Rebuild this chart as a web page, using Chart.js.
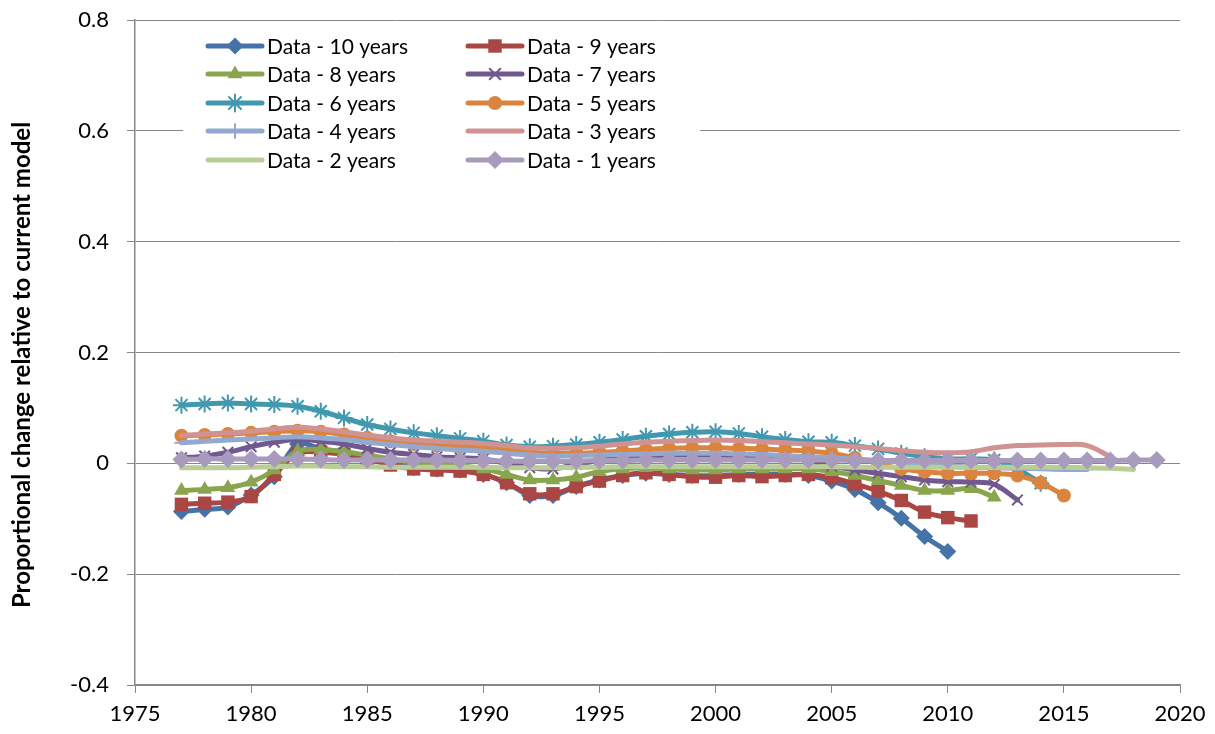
<!DOCTYPE html>
<html>
<head>
<meta charset="utf-8">
<script src="https://cdn.jsdelivr.net/npm/chart.js@4.4.0/dist/chart.umd.min.js"></script>
<style>
body { margin: 0; background: #fff; }
#box { width: 1215px; height: 734px; }
</style>
</head>
<body>
<div id="box"><canvas id="grafico"></canvas></div>
<script>
// every series starts in 1977, one value per year
const firstYear = 1977;
const xTicks = [1975, 1980, 1985, 1990, 1995, 2000, 2005, 2010, 2015, 2020];
const yTicks = [-0.4, -0.2, 0, 0.2, 0.4, 0.6, 0.8];
const yTitle = "Proportional change relative to current model";

const seriesNames = ["Data - 10 years", "Data - 9 years", "Data - 8 years", "Data - 7 years", "Data - 6 years",
                     "Data - 5 years", "Data - 4 years", "Data - 3 years", "Data - 2 years", "Data - 1 years"];

const data10 = [-0.087, -0.083, -0.079, -0.057, -0.024, 0.035, 0.026, 0.02, 0.01, 0.0,
                -0.008, -0.01, -0.012, -0.02, -0.035, -0.058, -0.058, -0.042, -0.03, -0.022,
                -0.018, -0.02, -0.022, -0.022, -0.02, -0.02, -0.02, -0.022, -0.032, -0.047,
                -0.071, -0.099, -0.132, -0.159];
const data9 = [-0.074, -0.072, -0.07, -0.06, -0.02, 0.018, 0.02, 0.016, 0.008, -0.003,
               -0.01, -0.012, -0.014, -0.02, -0.035, -0.055, -0.055, -0.042, -0.032, -0.022,
               -0.017, -0.02, -0.024, -0.025, -0.022, -0.024, -0.022, -0.02, -0.026, -0.037,
               -0.05, -0.067, -0.088, -0.098, -0.104];
const data8 = [-0.049, -0.047, -0.044, -0.034, -0.012, 0.022, 0.025, 0.021, 0.015, 0.008,
               0.002, 0.0, -0.004, -0.01, -0.02, -0.03, -0.03, -0.025, -0.015, -0.01,
               -0.008, -0.01, -0.012, -0.012, -0.01, -0.01, -0.01, -0.01, -0.015, -0.022,
               -0.031, -0.04, -0.049, -0.049, -0.046, -0.061];
const data7 = [0.01, 0.013, 0.02, 0.03, 0.038, 0.043, 0.04, 0.035, 0.027, 0.02,
               0.016, 0.012, 0.01, 0.008, 0.0, -0.008, -0.01, -0.002, 0.005, 0.01,
               0.013, 0.015, 0.015, 0.015, 0.014, 0.012, 0.01, 0.005, -0.005, -0.012,
               -0.018, -0.024, -0.03, -0.033, -0.034, -0.038, -0.066];
const data6 = [0.105, 0.107, 0.109, 0.107, 0.106, 0.103, 0.094, 0.082, 0.07, 0.062,
               0.055, 0.05, 0.045, 0.04, 0.033, 0.03, 0.031, 0.034, 0.038, 0.043,
               0.049, 0.053, 0.056, 0.057, 0.054, 0.048, 0.043, 0.039, 0.038, 0.032,
               0.026, 0.018, 0.012, 0.008, 0.008, 0.006, -0.01, -0.036];
const data5 = [0.05, 0.051, 0.053, 0.055, 0.057, 0.059, 0.057, 0.052, 0.046, 0.04,
               0.035, 0.032, 0.03, 0.028, 0.025, 0.02, 0.018, 0.018, 0.02, 0.022,
               0.025, 0.027, 0.028, 0.028, 0.027, 0.026, 0.024, 0.022, 0.018, 0.01,
               0.0, -0.01, -0.015, -0.018, -0.018, -0.018, -0.022, -0.035, -0.058];
const data4 = [0.037, 0.04, 0.042, 0.044, 0.046, 0.048, 0.046, 0.043, 0.038, 0.034,
               0.03, 0.027, 0.024, 0.022, 0.018, 0.015, 0.013, 0.014, 0.015, 0.016,
               0.017, 0.018, 0.018, 0.018, 0.017, 0.016, 0.014, 0.012, 0.01, 0.008,
               0.005, 0.002, -0.002, -0.005, -0.007, -0.008, -0.009, -0.01, -0.011, -0.011];
const data3 = [0.05, 0.053, 0.055, 0.058, 0.062, 0.065, 0.062, 0.057, 0.051, 0.046,
               0.042, 0.04, 0.038, 0.036, 0.032, 0.028, 0.027, 0.028, 0.031, 0.035,
               0.038, 0.04, 0.041, 0.042, 0.041, 0.039, 0.037, 0.035, 0.033, 0.03,
               0.027, 0.023, 0.02, 0.019, 0.021, 0.028, 0.032, 0.033, 0.034, 0.032, 0.012];
const data2 = [-0.008, -0.008, -0.008, -0.007, -0.006, -0.005, -0.005, -0.006, -0.006, -0.007,
               -0.007, -0.007, -0.007, -0.007, -0.008, -0.008, -0.008, -0.007, -0.007, -0.006,
               -0.006, -0.006, -0.006, -0.006, -0.006, -0.006, -0.006, -0.006, -0.006, -0.007,
               -0.007, -0.007, -0.007, -0.007, -0.007, -0.007, -0.007, -0.007, -0.007, -0.008,
               -0.009, -0.011];
const data1 = [0.007, 0.008, 0.008, 0.008, 0.008, 0.008, 0.007, 0.006, 0.006, 0.006,
               0.006, 0.006, 0.005, 0.005, 0.004, 0.004, 0.004, 0.004, 0.005, 0.005,
               0.006, 0.006, 0.006, 0.006, 0.006, 0.006, 0.006, 0.006, 0.006, 0.005,
               0.005, 0.005, 0.005, 0.005, 0.005, 0.005, 0.005, 0.005, 0.005, 0.005,
               0.005, 0.006, 0.006];

const allData = [data10, data9, data8, data7, data6, data5, data4, data3, data2, data1];
const colors = ["#4572A7", "#AA4643", "#89A54E", "#71588F", "#4198AF",
                "#DB843D", "#93A9CF", "#D19392", "#B9CD96", "#A99BBD"];
const markers = ["rectRot", "rect", "triangle", "crossRot", "star", "circle", "line", null, null, "rectRot"];
const markerSizes = [8.5, 9.5, 8.5, 7.5, 8.5, 7, 7, 0, 0, 9];

const FONT = "Lato, 'Open Sans', sans-serif";

function pontos(valores) {
    return valores.map((v, i) => ({ x: firstYear + i, y: v }));
}

function desenharMarcador(ctx, tipo, x, y, r, cor) {
    ctx.save();
    ctx.fillStyle = cor;
    ctx.strokeStyle = cor;
    ctx.lineWidth = 2;
    ctx.beginPath();
    if (tipo === "rectRot") {
        ctx.moveTo(x, y - r); ctx.lineTo(x + r, y); ctx.lineTo(x, y + r); ctx.lineTo(x - r, y);
        ctx.closePath(); ctx.fill();
    } else if (tipo === "rect") {
        const s = r * Math.SQRT1_2;
        ctx.rect(x - s, y - s, 2 * s, 2 * s); ctx.fill();
    } else if (tipo === "triangle") {
        ctx.moveTo(x, y - r); ctx.lineTo(x + r * 0.87, y + r * 0.5); ctx.lineTo(x - r * 0.87, y + r * 0.5);
        ctx.closePath(); ctx.fill();
    } else if (tipo === "crossRot") {
        const s = r * Math.SQRT1_2;
        ctx.moveTo(x - s, y - s); ctx.lineTo(x + s, y + s);
        ctx.moveTo(x + s, y - s); ctx.lineTo(x - s, y + s); ctx.stroke();
    } else if (tipo === "star") {
        const s = r * Math.SQRT1_2;
        ctx.moveTo(x - s, y - s); ctx.lineTo(x + s, y + s);
        ctx.moveTo(x + s, y - s); ctx.lineTo(x - s, y + s);
        ctx.moveTo(x, y - r); ctx.lineTo(x, y + r); ctx.stroke();
    } else if (tipo === "circle") {
        ctx.arc(x, y, r, 0, Math.PI * 2); ctx.fill();
    } else if (tipo === "line") {
        ctx.moveTo(x, y - r); ctx.lineTo(x, y + r); ctx.stroke();
    }
    ctx.restore();
}

// legend inside the plot, two columns over a white box
const legendaDentro = {
    id: "legendaDentro",
    afterDraw(chart) {
        const ctx = chart.ctx;
        ctx.save();
        ctx.fillStyle = "#fff";
        ctx.fillRect(183, 30, 517, 146);
        ctx.font = "21px " + FONT;
        ctx.textBaseline = "middle";
        const rows = [46, 74, 103, 131, 160];
        const cols = [208, 468];
        seriesNames.forEach((nome, i) => {
            const x0 = cols[i % 2];
            const y = rows[Math.floor(i / 2)];
            ctx.strokeStyle = colors[i];
            ctx.lineWidth = 5;
            ctx.lineCap = "round";
            ctx.beginPath();
            ctx.moveTo(x0, y);
            ctx.lineTo(x0 + 54, y);
            ctx.stroke();
            if (markers[i]) desenharMarcador(ctx, markers[i], x0 + 27, y, markerSizes[i], colors[i]);
            ctx.fillStyle = "#000";
            ctx.fillText(nome, x0 + 59, y + 1);
        });

        // y axis title, centred a bit lower than the plot middle as in the original
        ctx.translate(22, 365);
        ctx.rotate(-Math.PI / 2);
        ctx.font = "bold 24px " + FONT;
        ctx.textAlign = "center";
        ctx.fillStyle = "#000";
        ctx.fillText(yTitle, 0, 0);
        ctx.restore();
    }
};

const datasets = allData.map((valores, i) => ({
    label: seriesNames[i],
    data: pontos(valores),
    borderColor: colors[i],
    backgroundColor: colors[i],
    borderWidth: 5,
    borderCapStyle: "round",
    tension: 0.35,
    pointStyle: markers[i] || "circle",
    pointRadius: markers[i] ? markerSizes[i] : 0,
    pointBorderWidth: (markers[i] === "crossRot" || markers[i] === "star" || markers[i] === "line") ? 2 : 0,
    pointBackgroundColor: colors[i],
    pointBorderColor: colors[i],
    order: 10 - i
}));

new Chart(document.getElementById("grafico"), {
    type: "line",
    data: { datasets },
    plugins: [legendaDentro],
    options: {
        responsive: true,
        maintainAspectRatio: false,
        animation: false,
        layout: { padding: { left: 8, right: 35, top: 20, bottom: 0 } },
        plugins: { legend: { display: false }, tooltip: { enabled: false } },
        scales: {
            x: {
                type: "linear",
                min: xTicks[0],
                max: xTicks[xTicks.length - 1],
                afterBuildTicks: s => { s.ticks = xTicks.map(v => ({ value: v })); },
                afterFit: s => { s.height = 49; s.paddingLeft = 0; s.paddingRight = 0; },
                ticks: { color: "#000", font: { family: FONT, size: 22 }, padding: 8, maxRotation: 0,
                         callback: v => String(v) },
                grid: { drawOnChartArea: false, drawTicks: true, tickLength: 8, color: "#868686" },
                border: { color: "#868686", width: 1.5 }
            },
            y: {
                min: yTicks[0],
                max: yTicks[yTicks.length - 1],
                afterBuildTicks: s => { s.ticks = yTicks.map(v => ({ value: v })); },
                afterFit: s => { s.width = 127; s.paddingTop = 0; s.paddingBottom = 0; },
                ticks: { color: "#000", font: { family: FONT, size: 22 }, padding: 18,
                         callback: v => (Math.abs(v) < 1e-9 ? "0" : v.toFixed(1)) },
                grid: { color: "#868686", lineWidth: 1, tickLength: 8 },
                border: { color: "#868686", width: 1.5 }
            }
        }
    }
});
</script>
</body>
</html>
